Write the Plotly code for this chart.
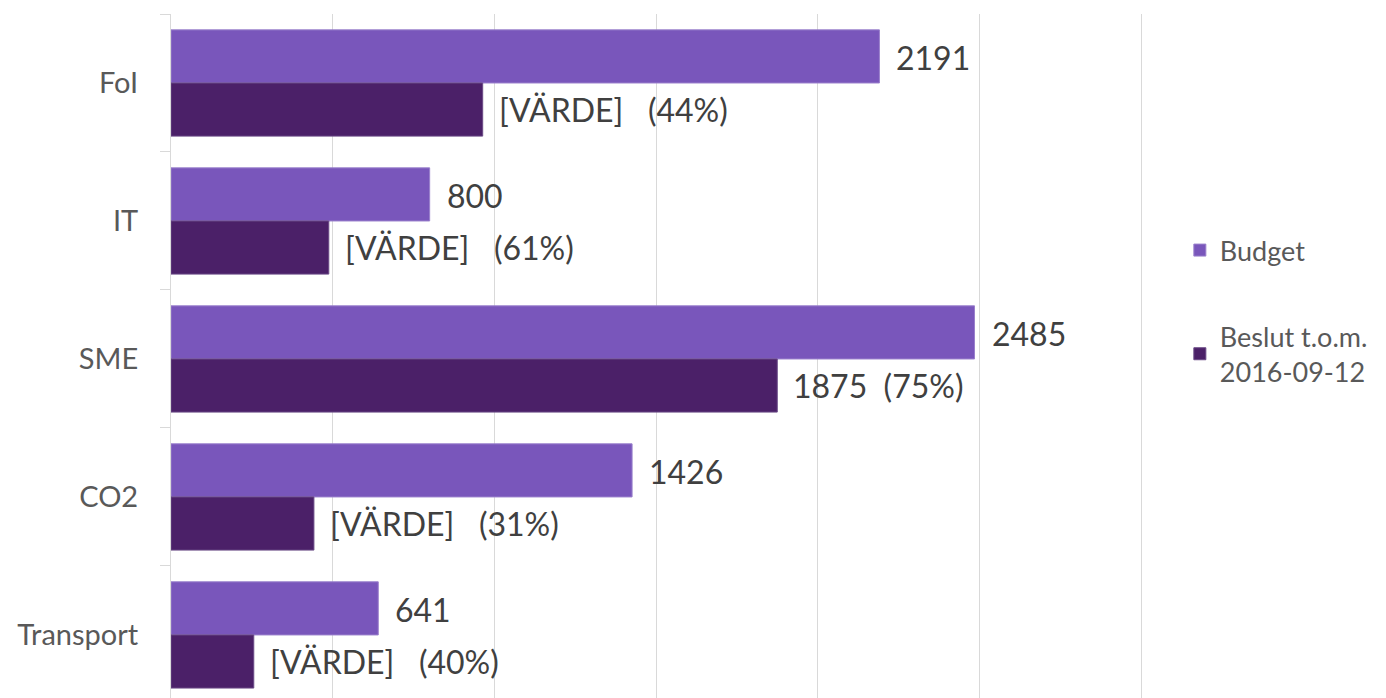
import plotly.graph_objects as go

categories = ["FoI", "IT", "SME", "CO2", "Transport"]
budget = [2191, 800, 2485, 1426, 641]
beslut = [964, 488, 1875, 442, 256]
beslut_pct = [44, 61, 75, 31, 40]
beslut_text = ["[VÄRDE]   (44%)", "[VÄRDE]   (61%)", "1875  (75%)", "[VÄRDE]   (31%)", "[VÄRDE]   (40%)"]
x_ticks = [0, 500, 1000, 1500, 2000, 2500, 3000]

FONT = "Lato"
C_BUDGET = "#7956BB"
C_BESLUT = "#4B2068"

fig = go.Figure()
fig.add_trace(go.Bar(y=categories, x=budget, orientation="h", name="Budget",
                     marker=dict(color=C_BUDGET, line=dict(color="#9a80cc", width=1)),
                     legendgroup="a"))
fig.add_trace(go.Bar(y=categories, x=beslut, orientation="h", name="Beslut t.o.m.<br>2016-09-12",
                     marker=dict(color=C_BESLUT, line=dict(color="#6a4a86", width=1)),
                     legendgroup="b"))

ann = []
for c, v in zip(categories, budget):
    ann.append(dict(x=v, y=c, text=str(v), xanchor="left", yanchor="middle", showarrow=False,
                    xshift=15, yshift=25, font=dict(family=FONT, size=32, color="#404040")))
for c, v, t in zip(categories, beslut, beslut_text):
    ann.append(dict(x=v, y=c, text=t, xanchor="left", yanchor="middle", showarrow=False,
                    xshift=14, yshift=-27, font=dict(family=FONT, size=32, color="#404040")))

fig.update_layout(
    width=1386, height=698,
    margin=dict(l=163, r=246, t=6, b=8),
    plot_bgcolor="white", paper_bgcolor="white",
    barmode="group", bargap=0.23, bargroupgap=0,
    font=dict(family=FONT, color="#595959"),
    annotations=ann,
    showlegend=True,
    legend=dict(x=1.0326, y=0.69, xanchor="left", yanchor="top",
                font=dict(family=FONT, size=27, color="#595959"),
                traceorder="grouped", tracegroupgap=48, itemwidth=30),
    xaxis=dict(range=[0, 3021.6], tickvals=x_ticks, showticklabels=False,
               showgrid=True, gridcolor="#d9d9d9", gridwidth=1, zeroline=False,
               showline=False),
    yaxis=dict(range=[4.457, -0.5], tickson="boundaries", ticks="outside", ticklen=10,
               tickcolor="#d9d9d9", showline=True, linecolor="#d9d9d9", linewidth=1,
               tickfont=dict(family=FONT, size=29, color="#595959"), ticklabelstandoff=26,
               showgrid=False),
)

fig.write_html("out.html")
